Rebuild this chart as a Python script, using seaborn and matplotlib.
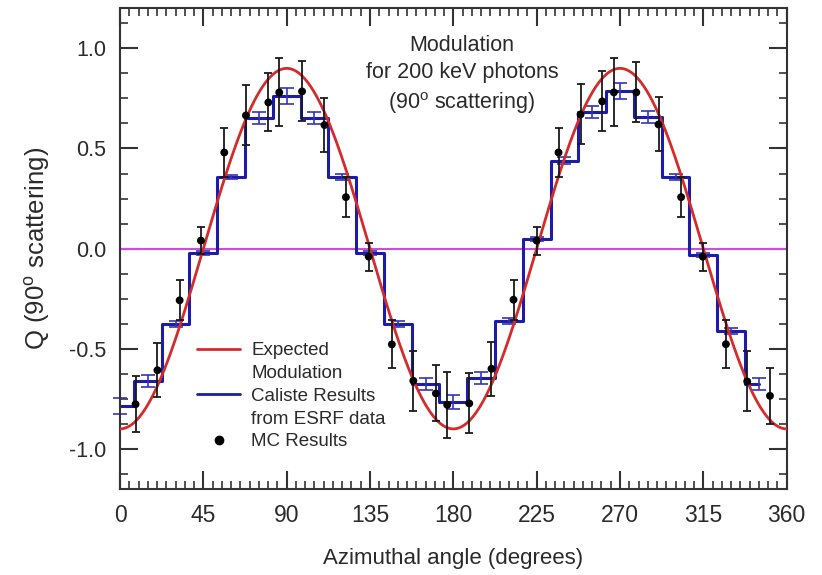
import numpy as np
import matplotlib
matplotlib.use('Agg')
import matplotlib.pyplot as plt
from matplotlib.lines import Line2D
from matplotlib.ticker import MultipleLocator
import seaborn as sns

# Caliste results (ESRF data), 15 degree bins
bin_centers = [0, 15, 30, 45, 60, 75, 90, 105, 120, 135, 150, 165,
               180, 195, 210, 225, 240, 255, 270, 285, 300, 315, 330, 345]
caliste_q = [-0.785, -0.66, -0.375, -0.02, 0.357, 0.65, 0.76, 0.65, 0.36, -0.02, -0.375, -0.675,
             -0.765, -0.645, -0.36, 0.048, 0.44, 0.68, 0.787, 0.657, 0.357, -0.03, -0.41, -0.675]
caliste_err = [0.04, 0.03, 0.015, 0.01, 0.01, 0.03, 0.04, 0.03, 0.015, 0.01, 0.015, 0.03,
               0.035, 0.03, 0.015, 0.01, 0.015, 0.03, 0.04, 0.03, 0.015, 0.01, 0.015, 0.03]

# Monte Carlo results
mc_angle = [8.4, 20.2, 32.2, 43.7, 56.3, 68, 80.1, 86, 98.3, 110.4, 122, 134.3,
            146.8, 158.4, 170.6, 176.7, 188.6, 200.6, 212.5, 225, 236.8, 248.7, 260.4, 266.7,
            278.8, 290.8, 303, 314.7, 327.2, 338.7, 351]
mc_q = [-0.777, -0.607, -0.258, 0.04, 0.48, 0.665, 0.73, 0.78, 0.785, 0.617, 0.257, -0.04,
        -0.478, -0.66, -0.723, -0.78, -0.773, -0.60, -0.255, 0.04, 0.48, 0.67, 0.735, 0.78,
        0.78, 0.62, 0.257, -0.04, -0.477, -0.663, -0.735]
mc_err = [0.14, 0.135, 0.1, 0.067, 0.12, 0.15, 0.145, 0.17, 0.15, 0.135, 0.1, 0.07,
          0.12, 0.15, 0.14, 0.165, 0.15, 0.135, 0.1, 0.07, 0.12, 0.15, 0.15, 0.17,
          0.15, 0.135, 0.1, 0.07, 0.12, 0.15, 0.14]

# expected modulation amplitude (Q = -A cos 2phi)
expected_amp = 0.9

sns.set_style('ticks')
plt.rcParams['font.family'] = ['Liberation Sans', 'DejaVu Sans']
plt.rcParams['mathtext.fontset'] = 'custom'
plt.rcParams['mathtext.rm'] = 'Liberation Sans'
plt.rcParams['mathtext.it'] = 'Liberation Sans'

red = '#d42b2b'
blue = '#1c1ca8'
blue_err = '#3434b8'
purple = '#c650dc'
txt = '#2a2a2a'

fig = plt.figure(figsize=(8.22, 5.75), dpi=100)
ax = fig.add_axes([0.146, 0.1496, 0.811, 0.836])

phi = np.linspace(0, 360, 721)
sns.lineplot(x=phi, y=-expected_amp * np.cos(np.radians(2 * phi)), ax=ax,
             color=red, lw=2.0, zorder=3)
ax.axhline(0, color=purple, lw=1.5, zorder=1)
ax.step(bin_centers, caliste_q, where='mid', color=blue, lw=2.2, zorder=2)
ax.errorbar(bin_centers, caliste_q, yerr=caliste_err, fmt='none', ecolor=blue_err,
            elinewidth=1.2, capsize=5, capthick=1.2, zorder=2, clip_on=False)
ax.errorbar(mc_angle, mc_q, yerr=mc_err, fmt='none', ecolor='#1a1a1a',
            elinewidth=1.3, capsize=3, capthick=1.3, zorder=4)
sns.scatterplot(x=mc_angle, y=mc_q, ax=ax, color='black', s=32, edgecolor='none', zorder=5)

ax.set_xlim(0, 360)
ax.set_ylim(-1.2, 1.2)
ax.xaxis.set_major_locator(MultipleLocator(45))
ax.xaxis.set_minor_locator(MultipleLocator(5))
ax.yaxis.set_major_locator(MultipleLocator(0.5))
ax.yaxis.set_minor_locator(MultipleLocator(0.125))
ax.set_yticks([-1.0, -0.5, 0.0, 0.5, 1.0])
ax.set_yticklabels(['-1.0', '-0.5', '0.0', '0.5', '1.0'])
ax.tick_params(which='both', direction='in', top=True, right=True, color='#333333')
ax.tick_params(which='major', length=13, width=1.5)
ax.tick_params(which='minor', length=6, width=1.2)
ax.tick_params(axis='x', which='major', labelsize=16.5, pad=11, labelcolor=txt)
ax.tick_params(axis='y', which='major', labelsize=15.5, pad=10, labelcolor=txt)
for s in ax.spines.values():
    s.set_linewidth(1.5)
    s.set_color('#333333')

ax.set_xlabel('Azimuthal angle (degrees)', fontsize=16, color=txt, labelpad=15)
ax.set_ylabel(r'Q (90$^{\rm o}$ scattering)', fontsize=18.5, color=txt, labelpad=12)

ax.text(0.513, 0.945, 'Modulation\nfor 200 keV photons\n' + r'(90$^{\rm o}$ scattering)',
        transform=ax.transAxes, ha='center', va='top', fontsize=15.5, color=txt,
        linespacing=1.4)

handles = [Line2D([], [], color=red, lw=2),
           Line2D([], [], lw=0),
           Line2D([], [], color=blue, lw=2),
           Line2D([], [], lw=0),
           Line2D([], [], color='black', marker='o', ls='none', ms=6)]
labels = ['Expected', 'Modulation', 'Caliste Results', 'from ESRF data', 'MC Results']
leg = ax.legend(handles, labels, loc='upper left', bbox_to_anchor=(0.1155, 0.305),
                frameon=False, fontsize=13.5, handlelength=2.3, handletextpad=0.6,
                labelspacing=0.3, borderpad=0, borderaxespad=0)
for t in leg.get_texts():
    t.set_color(txt)

fig.savefig('out.png', dpi=100)
